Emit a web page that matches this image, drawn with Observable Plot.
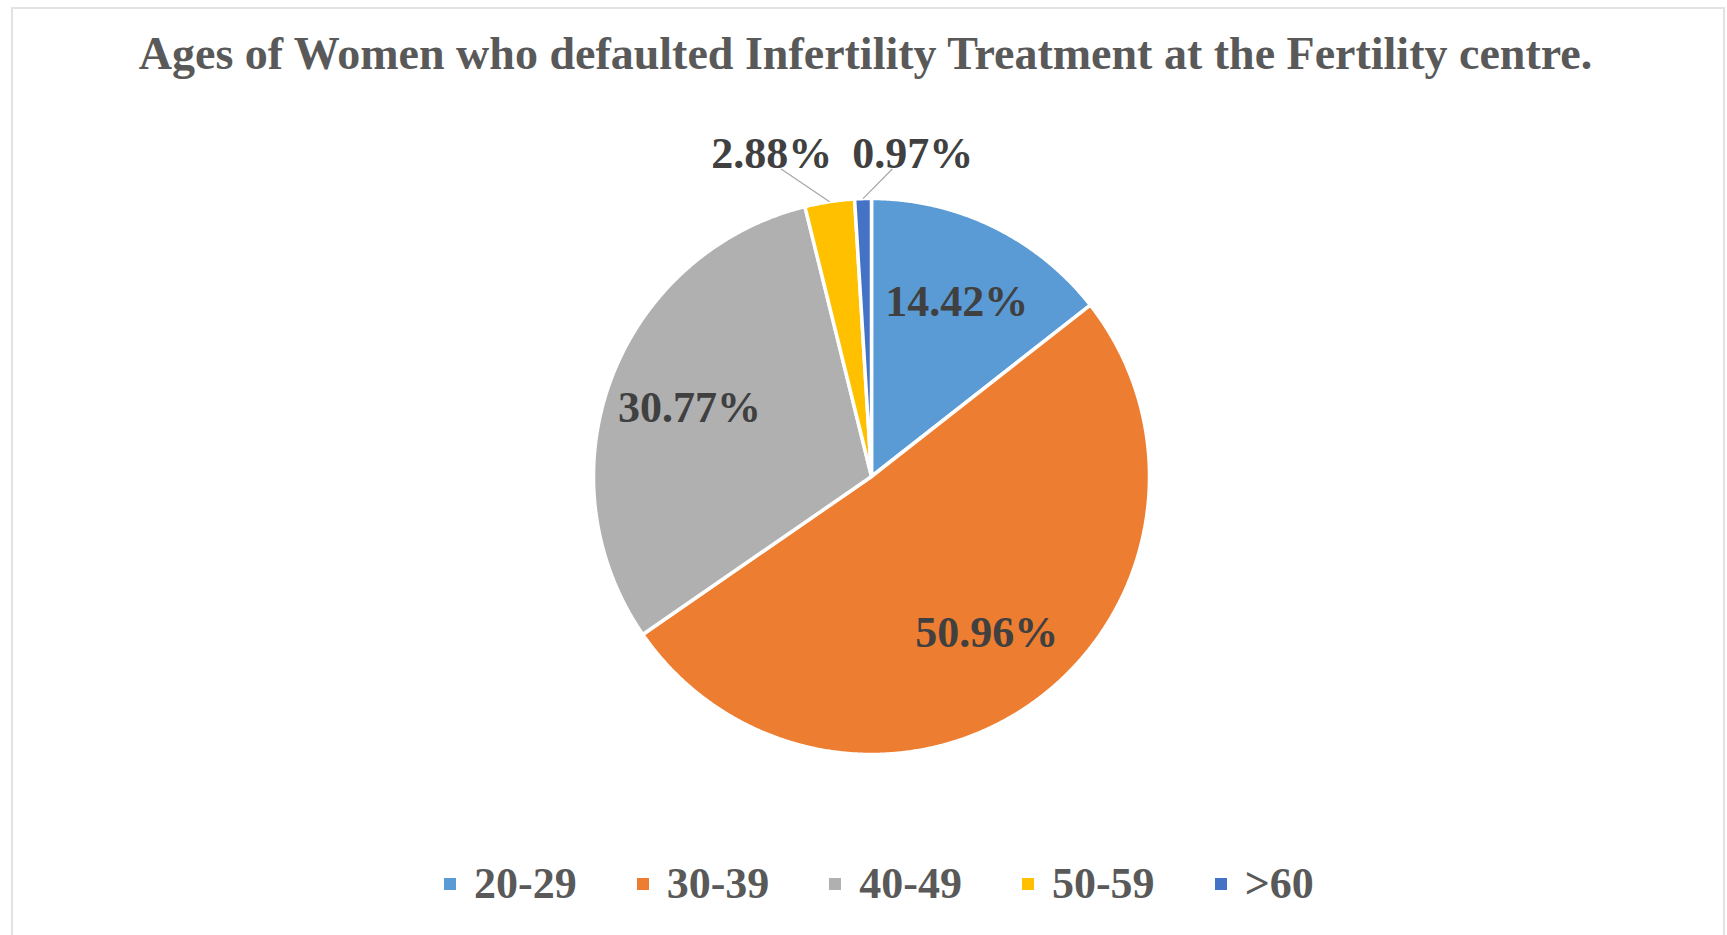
<!DOCTYPE html>
<html><head><meta charset="utf-8">
<script src="https://cdn.jsdelivr.net/npm/d3@7"></script>
<script src="https://cdn.jsdelivr.net/npm/@observablehq/plot@0.6"></script>
<style>
html,body{margin:0;padding:0;background:#fff;width:1727px;height:935px;overflow:hidden;}
#frame{position:absolute;left:11px;top:7px;width:1714px;height:1000px;border:2px solid #e2e2e2;box-sizing:border-box;}
#chart{position:absolute;left:0;top:0;}
#legend{position:absolute;left:444px;top:858px;}
.lg-swatches{font-family:"Liberation Serif","Times New Roman",serif !important;font-weight:bold;font-size:44px !important;color:#595959;margin:0 !important;}
.lg-swatch{margin-right:60px !important;}
.lg-swatch > svg{margin-right:18px !important;}
</style></head><body>
<div id="frame"></div><div id="chart"></div><div id="legend"></div>
<script>
const title = "Ages of Women who defaulted Infertility Treatment at the Fertility centre.";
const categories = ["20-29", "30-39", "40-49", "50-59", ">60"];
const percents = [14.42, 50.96, 30.77, 2.88, 0.97];
const colors = ["#5B9BD5", "#ED7D31", "#B0B0B0", "#FFC000", "#4472C4"];

const W = 1727, H = 935, CX = 871, CY = 476, R = 278;
const FONT = "Liberation Serif, Times New Roman, serif";

const data = categories.map((c, i) => ({cat: c, value: percents[i]}));
const arcs = d3.pie().sort(null).value(d => d.value)(data);

// slice polygons (unit radius, y up)
const poly = [];
arcs.forEach(a => {
  poly.push({cat: a.data.cat, x: 0, y: 0});
  const n = Math.max(2, Math.ceil((a.endAngle - a.startAngle) / 0.005));
  for (let k = 0; k <= n; k++) {
    const t = a.startAngle + (a.endAngle - a.startAngle) * k / n;
    poly.push({cat: a.data.cat, x: Math.sin(t), y: Math.cos(t)});
  }
});

const fmt = v => v.toFixed(2) + "%";
const inside = arcs.filter(a => a.data.value >= 5).map(a => {
  const m = (a.startAngle + a.endAngle) / 2;
  return {label: fmt(a.data.value), x: 0.7 * Math.sin(m), y: 0.7 * Math.cos(m)};
});

const small = arcs.filter(a => a.data.value < 5).map(a => {
  const m = (a.startAngle + a.endAngle) / 2;
  return {m, label: fmt(a.data.value), nx: 1.16 * Math.sin(m)};
}).sort((p, q) => p.nx - q.nx);
const meanX = d3.mean(small, d => d.nx);
const gap = 10 / R;
small.forEach((d, i) => {
  d.left = i < small.length / 2;
  d.tx = meanX + (d.left ? -gap : gap);
  d.ty = 1.16;
  d.lx1 = meanX + (d.left ? -0.22 : 0.18);
  d.ly1 = 1.16 - 15 / R;
  d.lx2 = Math.sin(d.m);
  d.ly2 = Math.cos(d.m);
});

const chart = Plot.plot({
  width: W, height: H, margin: 0,
  x: {domain: [-CX / R, (W - CX) / R], axis: null},
  y: {domain: [-(H - CY) / R, CY / R], axis: null},
  color: {domain: categories, range: colors},
  style: {background: "transparent", overflow: "visible"},
  marks: [
    Plot.line(poly, {x: "x", y: "y", z: "cat", fill: "cat", stroke: "white", strokeWidth: 3.5, curve: "linear-closed", strokeLinejoin: "round"}),
    Plot.text(inside, {x: "x", y: "y", text: "label", fill: "#404040", fontSize: 44, fontWeight: "bold", fontFamily: FONT}),
    Plot.link(small, {x1: "lx1", y1: "ly1", x2: "lx2", y2: "ly2", stroke: "#A6A6A6", strokeWidth: 1.2}),
    Plot.text(small.filter(d => d.left), {x: "tx", y: "ty", text: "label", textAnchor: "end", fill: "#404040", fontSize: 44, fontWeight: "bold", fontFamily: FONT}),
    Plot.text(small.filter(d => !d.left), {x: "tx", y: "ty", text: "label", textAnchor: "start", fill: "#404040", fontSize: 44, fontWeight: "bold", fontFamily: FONT}),
    Plot.text([title], {frameAnchor: "top", dx: 1.5, dy: 36, text: d => d, fill: "#595959", fontSize: 46, fontWeight: "bold", fontFamily: FONT})
  ]
});
document.getElementById("chart").appendChild(chart);

const legend = Plot.legend({color: {type: "ordinal", domain: categories, range: colors}, swatchSize: 12, className: "lg"});
document.getElementById("legend").appendChild(legend);
</script>
</body></html>
